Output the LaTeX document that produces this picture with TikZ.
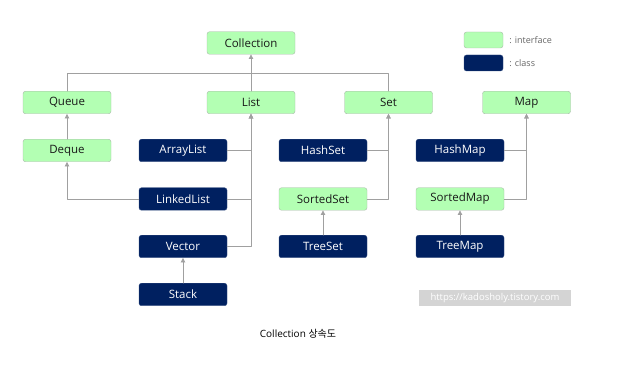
\documentclass[tikz,border=0pt]{standalone}
\usepackage{fontspec}
\setmainfont{Open Sans}
\newfontfamily\krfont{Noto Sans CJK KR}
\usetikzlibrary{arrows.meta,positioning}
\definecolor{ifill}{HTML}{B3FFB3}
\definecolor{iedge}{HTML}{A8B8A8}
\definecolor{cfill}{HTML}{002060}
\definecolor{wire}{HTML}{A0A0A0}
\tikzset{
  iface/.style={draw=iedge,fill=ifill,rounded corners=2.5pt,minimum width=88pt,minimum height=22.5pt,inner sep=0pt,font=\fontsize{11.5}{13}\selectfont,text=black!90},
  klass/.style={iface,draw=cfill!80!white,fill=cfill,text=white},
  wireline/.style={draw=wire,line width=0.8pt},
  inh/.style={wireline,-{Triangle[width=4.5pt,length=4.5pt]}}
}
\begin{document}
\begin{tikzpicture}[x=1pt,y=-1pt,line cap=round,line join=round]
  \useasboundingbox (0,0) rectangle (633,385);
  % interfaces
  \node[iface] (coll) at (251,43) {Collection};
  \node[iface] (queue) at (67,102.5) {Queue};
  \node[iface] (list) at (251,102.5) {List};
  \node[iface] (set) at (388.5,102.5) {Set};
  \node[iface] (map) at (526.5,102.5) {Map};
  \node[iface] (deque) at (67,150.5) {Deque};
  \node[iface] (sortedset) at (323,199) {SortedSet};
  \node[iface] (sortedmap) at (460,199) {SortedMap};
  % classes
  \node[klass] (arraylist) at (183,150.5) {ArrayList};
  \node[klass] (linkedlist) at (183,199) {LinkedList};
  \node[klass] (vector) at (183,246.5) {Vector};
  \node[klass] (stack) at (183,294.5) {Stack};
  \node[klass] (hashset) at (323,150.5) {HashSet};
  \node[klass] (treeset) at (323,246.5) {TreeSet};
  \node[klass] (hashmap) at (460,150.5) {HashMap};
  \node[klass] (treemap) at (460,246.5) {TreeMap};
  % legend
  \node[iface,minimum width=39pt,minimum height=16pt] (legi) at (483.5,40) {};
  \node[klass,minimum width=39pt,minimum height=16pt] (legc) at (483.5,63) {};
  \node[right=6pt of legi,inner sep=0pt,font=\fontsize{9}{11}\selectfont,text=black!60] (legitext) {: interface};
  \node[right=6pt of legc,inner sep=0pt,font=\fontsize{9}{11}\selectfont,text=black!60] (legctext) {: class};
  % connectors
  \coordinate (bus) at (251,73);
  \draw[wireline] (queue.north) |- (bus);
  \draw[wireline] (set.north) |- (bus);
  \draw[wireline] (list.north) -- (bus);
  \draw[inh] (bus) -- (coll.south);
  \draw[inh] (deque.north) -- (queue.south);
  \draw[inh] (linkedlist.west) -| (deque.south);
  \draw[inh] (arraylist.east) -| (list.south);
  \draw[inh] (linkedlist.east) -| (list.south);
  \draw[inh] (vector.east) -| (list.south);
  \draw[inh] (stack.north) -- (vector.south);
  \draw[inh] (hashset.east) -| (set.south);
  \draw[inh] (sortedset.east) -| (set.south);
  \draw[inh] (treeset.north) -- (sortedset.south);
  \draw[inh] (hashmap.east) -| (map.south);
  \draw[inh] (sortedmap.east) -| (map.south);
  \draw[inh] (treemap.north) -- (sortedmap.south);
  % watermark and caption
  \node[fill=black!17,text=white,minimum width=152pt,minimum height=16pt,inner sep=0pt,font=\fontsize{9.5}{11}\selectfont] (mark) at (495,298) {https://kadosholy.tistory.com};
  \node[font=\fontsize{10}{12}\selectfont,inner sep=0pt] (caption) at (298,334) {Collection {\krfont 상속도}};
\end{tikzpicture}
\end{document}
